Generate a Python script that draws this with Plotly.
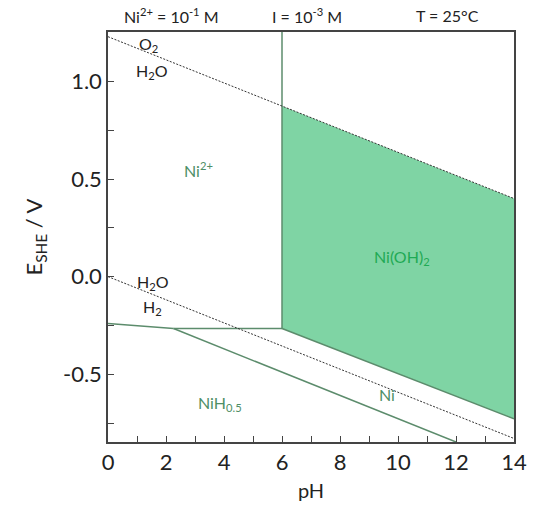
import plotly.graph_objects as go

# Water stability lines
ph_water = [0, 14]
e_o2_h2o = [1.229, 0.400]
e_h2o_h2 = [0.0, -0.829]

# Ni phase boundaries
ph_ni2_nioh2 = [6.0, 6.0]
e_ni2_nioh2 = [-0.266, 1.26]
ph_ni2_nih = [0.0, 2.26]
e_ni2_nih = [-0.240, -0.266]
ph_ni2_ni = [2.26, 6.0]
e_ni2_ni = [-0.266, -0.266]
ph_ni_nih = [2.26, 12.0]
e_ni_nih = [-0.266, -0.847]
ph_nioh2_ni = [6.0, 14.0]
e_nioh2_ni = [-0.266, -0.728]

# Ni(OH)2 stability region (shaded)
ph_nioh2_area = [6.0, 6.0, 14.0, 14.0, 6.0]
e_nioh2_area = [-0.266, 0.874, 0.400, -0.728, -0.266]

# Region labels
label_text = ["Ni<sup>2+</sup>", "Ni(OH)<sub>2</sub>", "Ni", "NiH<sub>0.5</sub>"]
label_ph = [3.12, 10.13, 9.61, 3.86]
label_e = [0.547, 0.097, -0.604, -0.650]
label_col = ["#4e8f66", "#1faa55", "#4e8f66", "#4e8f66"]

water_text = ["O<sub>2</sub>", "H<sub>2</sub>O", "H<sub>2</sub>O", "H<sub>2</sub>"]
water_ph = [1.41, 1.52, 1.55, 1.52]
water_e = [1.187, 1.049, -0.031, -0.159]

header_text = ["Ni<sup>2+</sup> = 10<sup>-1</sup> M", "I = 10<sup>-3</sup> M", "T = 25°C"]
header_ph = [2.2, 6.85, 11.7]

x_ticks = [0, 2, 4, 6, 8, 10, 12, 14]
y_ticks = [-0.5, 0.0, 0.5, 1.0]

FONT = "Lato"
line_col = "#5c8c6c"

fig = go.Figure()

fig.add_trace(go.Scatter(x=ph_nioh2_area, y=e_nioh2_area, mode="lines",
                         fill="toself", fillcolor="#7fd4a4",
                         line=dict(width=0), hoverinfo="skip", showlegend=False))

for xs, ys in [(ph_ni2_nioh2, e_ni2_nioh2), (ph_ni2_nih, e_ni2_nih), (ph_ni2_ni, e_ni2_ni),
               (ph_ni_nih, e_ni_nih), (ph_nioh2_ni, e_nioh2_ni)]:
    fig.add_trace(go.Scatter(x=xs, y=ys, mode="lines",
                             line=dict(color=line_col, width=1.5), showlegend=False))

for ys in [e_o2_h2o, e_h2o_h2]:
    fig.add_trace(go.Scatter(x=ph_water, y=ys, mode="lines",
                             line=dict(color="#333333", width=1, dash="2px,1.5px"), showlegend=False))

for t, x, y, c in zip(label_text, label_ph, label_e, label_col):
    fig.add_annotation(x=x, y=y, text=t, showarrow=False,
                       font=dict(family=FONT, size=16, color=c))

for t, x, y in zip(water_text, water_ph, water_e):
    fig.add_annotation(x=x, y=y, text=t, showarrow=False,
                       font=dict(family=FONT, size=16, color="#222222"))

for t, x in zip(header_text, header_ph):
    fig.add_annotation(x=x, y=1.0, xref="x", yref="paper", yanchor="middle", yshift=17,
                       text=t, showarrow=False,
                       font=dict(family=FONT, size=16, color="#222222"))

axis_common = dict(showline=True, mirror=True, linecolor="#444444", linewidth=1.5,
                   ticks="inside", ticklen=6, tickcolor="#444444", tickwidth=1.2,
                   showgrid=False, zeroline=False,
                   tickfont=dict(family=FONT, size=22, color="#222222"))

fig.update_layout(
    width=539, height=514,
    margin=dict(l=108, r=18, t=32, b=72),
    plot_bgcolor="white", paper_bgcolor="white",
    xaxis=dict(range=[0, 14], tickvals=x_ticks, ticktext=[str(v) for v in x_ticks],
               minor=dict(dtick=1, tick0=0, ticks="inside", ticklen=6, tickcolor="#444444"),
               title=dict(text="pH", font=dict(family=FONT, size=20, color="#222222"), standoff=10),
               **axis_common),
    yaxis=dict(range=[-0.847, 1.253], tickvals=y_ticks, ticktext=["-0.5", "0.0", "0.5", "1.0"],
               minor=dict(dtick=0.25, tick0=0, ticks="inside", ticklen=6, tickcolor="#444444"),
               title=dict(text="E<sub>SHE</sub> / V", font=dict(family=FONT, size=22, color="#222222"), standoff=14),
               **axis_common),
)

fig.write_html("out.html", config={"displayModeBar": False},
               post_script="document.body.style.margin='0';document.body.style.overflow='hidden';")
